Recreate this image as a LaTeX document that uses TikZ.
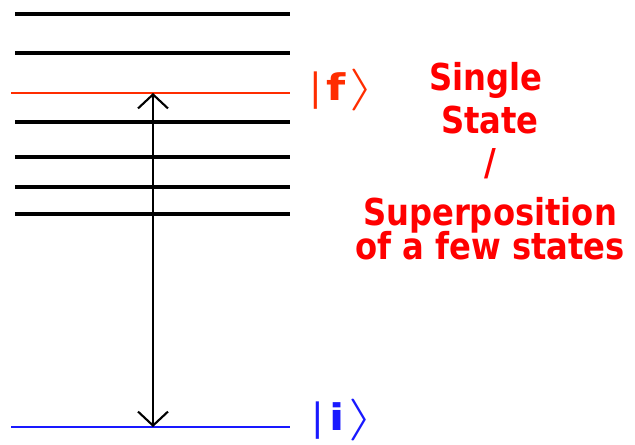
\documentclass[tikz,border=0pt]{standalone}
\usepackage{graphicx}
\usepackage{fontspec}
\usepackage{unicode-math}
\setmainfont{DejaVu Sans}
\setmathfont{Latin Modern Math}
\usetikzlibrary{arrows.meta}
\definecolor{fred}{RGB}{255,45,0}
\definecolor{txtred}{RGB}{255,0,0}
\definecolor{iblue}{RGB}{25,25,255}
\newcommand{\tall}[1]{\scalebox{1}[1.15]{#1}}
\newcommand{\ketx}[2]{\fontsize{32}{40}\selectfont|\hspace{#2}%
  {\fontsize{29}{30}\selectfont\bfseries\scalebox{1.3}[1.08]{#1}}\hspace{3pt}%
  \scalebox{1.6}[1.05]{\fontsize{34}{40}\selectfont$\rangle$}}

\begin{document}
\begin{tikzpicture}[x=0.03cm,y=-0.03cm,
    level/.style={line width=2.6pt},
    ket/.style={anchor=base west,inner sep=0pt},
    lbl/.style={text=txtred,anchor=base,inner sep=0pt,font=\fontsize{27.5}{30}\selectfont\bfseries}]

\useasboundingbox (0,0) rectangle (635,445);

% other levels
\foreach \n/\y in {a/14,b/53,c/122,d/157,e/187,g/214} {
  \coordinate (\n1) at (15,\y);
  \coordinate (\n2) at (290,\y);
  \draw[level] (\n1) -- (\n2);
}

% final and initial states
\coordinate (f1) at (11,93);
\coordinate (f2) at (290,93);
\coordinate (fm) at (153,93);
\draw[fred,line width=2pt] (f1) -- (f2);
\coordinate (i1) at (11,427);
\coordinate (i2) at (290,427);
\coordinate (im) at (153,427);
\draw[iblue,line width=2.3pt] (i1) -- (i2);

\draw[line width=1.8pt,{Straight Barb[length=0.42cm,width=0.9cm]}-{Straight Barb[length=0.42cm,width=0.9cm]}] (fm) -- (im);

\node[ket,text=fred] (f) at (309,100) {\ketx{f}{4pt}};
\node[ket,text=iblue] (i) at (311,430) {\ketx{i}{5pt}};

\node[lbl] (single) at (486,90) {\tall{Single}};
\node[lbl] (state) at (490,133) {\tall{State}};
\node[lbl] (slash) at (490,175) {\tall{/}};
\node[lbl] (super) at (490,225) {\tall{Superposition}};
\node[lbl] (few) at (490,259) {\tall{of a few states}};
\end{tikzpicture}
\end{document}
